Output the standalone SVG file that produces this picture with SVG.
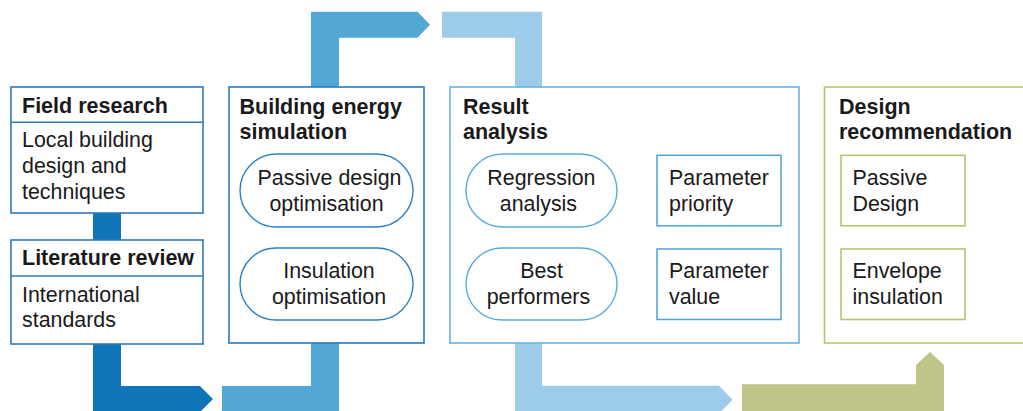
<svg xmlns="http://www.w3.org/2000/svg" width="1023" height="411" viewBox="0 0 1023 411">
<style>
text{font-family:"Liberation Sans",Arial,Helvetica,sans-serif;font-size:21.4px;fill:#1a1a1a}
.b{font-weight:bold;font-size:21.5px}
.c{text-anchor:middle}
.box1{fill:#fff;stroke:#2f78ba;stroke-width:1.6}
.pill1{fill:#fff;stroke:#2a80c6;stroke-width:1.4}
.box2{fill:#fff;stroke:#6cb2df;stroke-width:1.6}
.pill2{fill:#fff;stroke:#5aaadd;stroke-width:1.4}
.box3{fill:#fff;stroke:#4fa2d8;stroke-width:1.5}
.box4{fill:#fff;stroke:#b9c36e;stroke-width:1.6}
.dark{fill:#0f75b7}
.mid{fill:#53a7d5}
.light{fill:#9dcbea}
.olive{fill:#bfc586}
</style>
<g id="connectors">
<rect class="dark" x="93" y="212" width="28" height="29"/>
<path class="dark" d="M93,343 H121 V386 H200 L213,399 L200,412 H93 Z"/>
<path class="mid" d="M222,386 H311 V343 H339 V412 H222 Z"/>
<path class="mid" d="M311,88 V11.7 H417.5 L430,24.7 L417.5,37.7 H339 V88 Z"/>
<path class="light" d="M442,11.7 H542 V88 H515 V37.7 H442 Z"/>
<path class="light" d="M515,343 H542 V385.7 H719 L732.5,399.7 L719,413.7 H515 Z"/>
<path class="olive" d="M742,384.3 H916 V365 L930,352 L944,365 V412 H742 Z"/>
<path class="light" d="M622,185.5 H645.5 L650.3,190.7 L645.5,196 H622 Z"/>
<path class="light" d="M622,279 H645.5 L650.3,284.2 L645.5,289.5 H622 Z"/>
</g>
<g id="field-research">
<rect class="box1" x="11" y="87" width="192" height="126"/>
<line x1="11" y1="122.3" x2="203" y2="122.3" stroke="#2f78ba" stroke-width="1.6"/>
<text class="b" x="22" y="113.3">Field research</text>
<text x="22" y="147">Local building</text>
<text x="22" y="173">design and</text>
<text x="22" y="199">techniques</text>
</g>
<g id="literature-review">
<rect class="box1" x="11" y="240" width="192" height="104"/>
<line x1="11" y1="276" x2="203" y2="276" stroke="#2f78ba" stroke-width="1.6"/>
<text class="b" x="22" y="265">Literature review</text>
<text x="22" y="301.5">International</text>
<text x="22" y="326.8">standards</text>
</g>
<g id="building-energy-simulation">
<rect class="box1" x="229" y="87" width="195" height="256"/>
<text class="b" x="239.5" y="114">Building energy</text>
<text class="b" x="239.5" y="139.3">simulation</text>
</g>
<g id="passive-design-optimisation">
<rect class="pill1" x="240" y="154" width="173" height="73" rx="36.5"/>
<text class="c" x="329.5" y="185">Passive design</text>
<text class="c" x="326.5" y="210.7">optimisation</text>
</g>
<g id="insulation-optimisation">
<rect class="pill1" x="240" y="248" width="173" height="72" rx="36"/>
<text class="c" x="329" y="278.3">Insulation</text>
<text class="c" x="329" y="304">optimisation</text>
</g>
<g id="result-analysis">
<rect class="box2" x="450" y="87" width="349" height="256"/>
<text class="b" x="463" y="114">Result</text>
<text class="b" x="463" y="139.3">analysis</text>
</g>
<g id="regression-analysis">
<rect class="pill2" x="466" y="154" width="151" height="73" rx="36.5"/>
<text class="c" x="541.4" y="185">Regression</text>
<text class="c" x="538.4" y="210.7">analysis</text>
</g>
<g id="best-performers">
<rect class="pill2" x="466" y="248" width="151" height="72" rx="36"/>
<text class="c" x="541.6" y="278.3">Best</text>
<text class="c" x="538.4" y="304">performers</text>
</g>
<g id="parameter-priority">
<rect class="box3" x="657" y="155.3" width="124" height="70.5"/>
<text x="669" y="185">Parameter</text>
<text x="669" y="210.7">priority</text>
</g>
<g id="parameter-value">
<rect class="box3" x="657" y="249" width="124" height="70.5"/>
<text x="669" y="278.3">Parameter</text>
<text x="669" y="304">value</text>
</g>
<g id="design-recommendation">
<rect class="box4" x="824.5" y="87" width="210" height="256"/>
<text class="b" x="839" y="114">Design</text>
<text class="b" x="839" y="139.3">recommendation</text>
</g>
<g id="passive-design">
<rect class="box4" x="841" y="155.3" width="124" height="70.5"/>
<text x="852.5" y="185">Passive</text>
<text x="852.5" y="210.7">Design</text>
</g>
<g id="envelope-insulation">
<rect class="box4" x="841" y="249" width="124" height="70.5"/>
<text x="852.5" y="278.3">Envelope</text>
<text x="852.5" y="304">insulation</text>
</g>
</svg>
